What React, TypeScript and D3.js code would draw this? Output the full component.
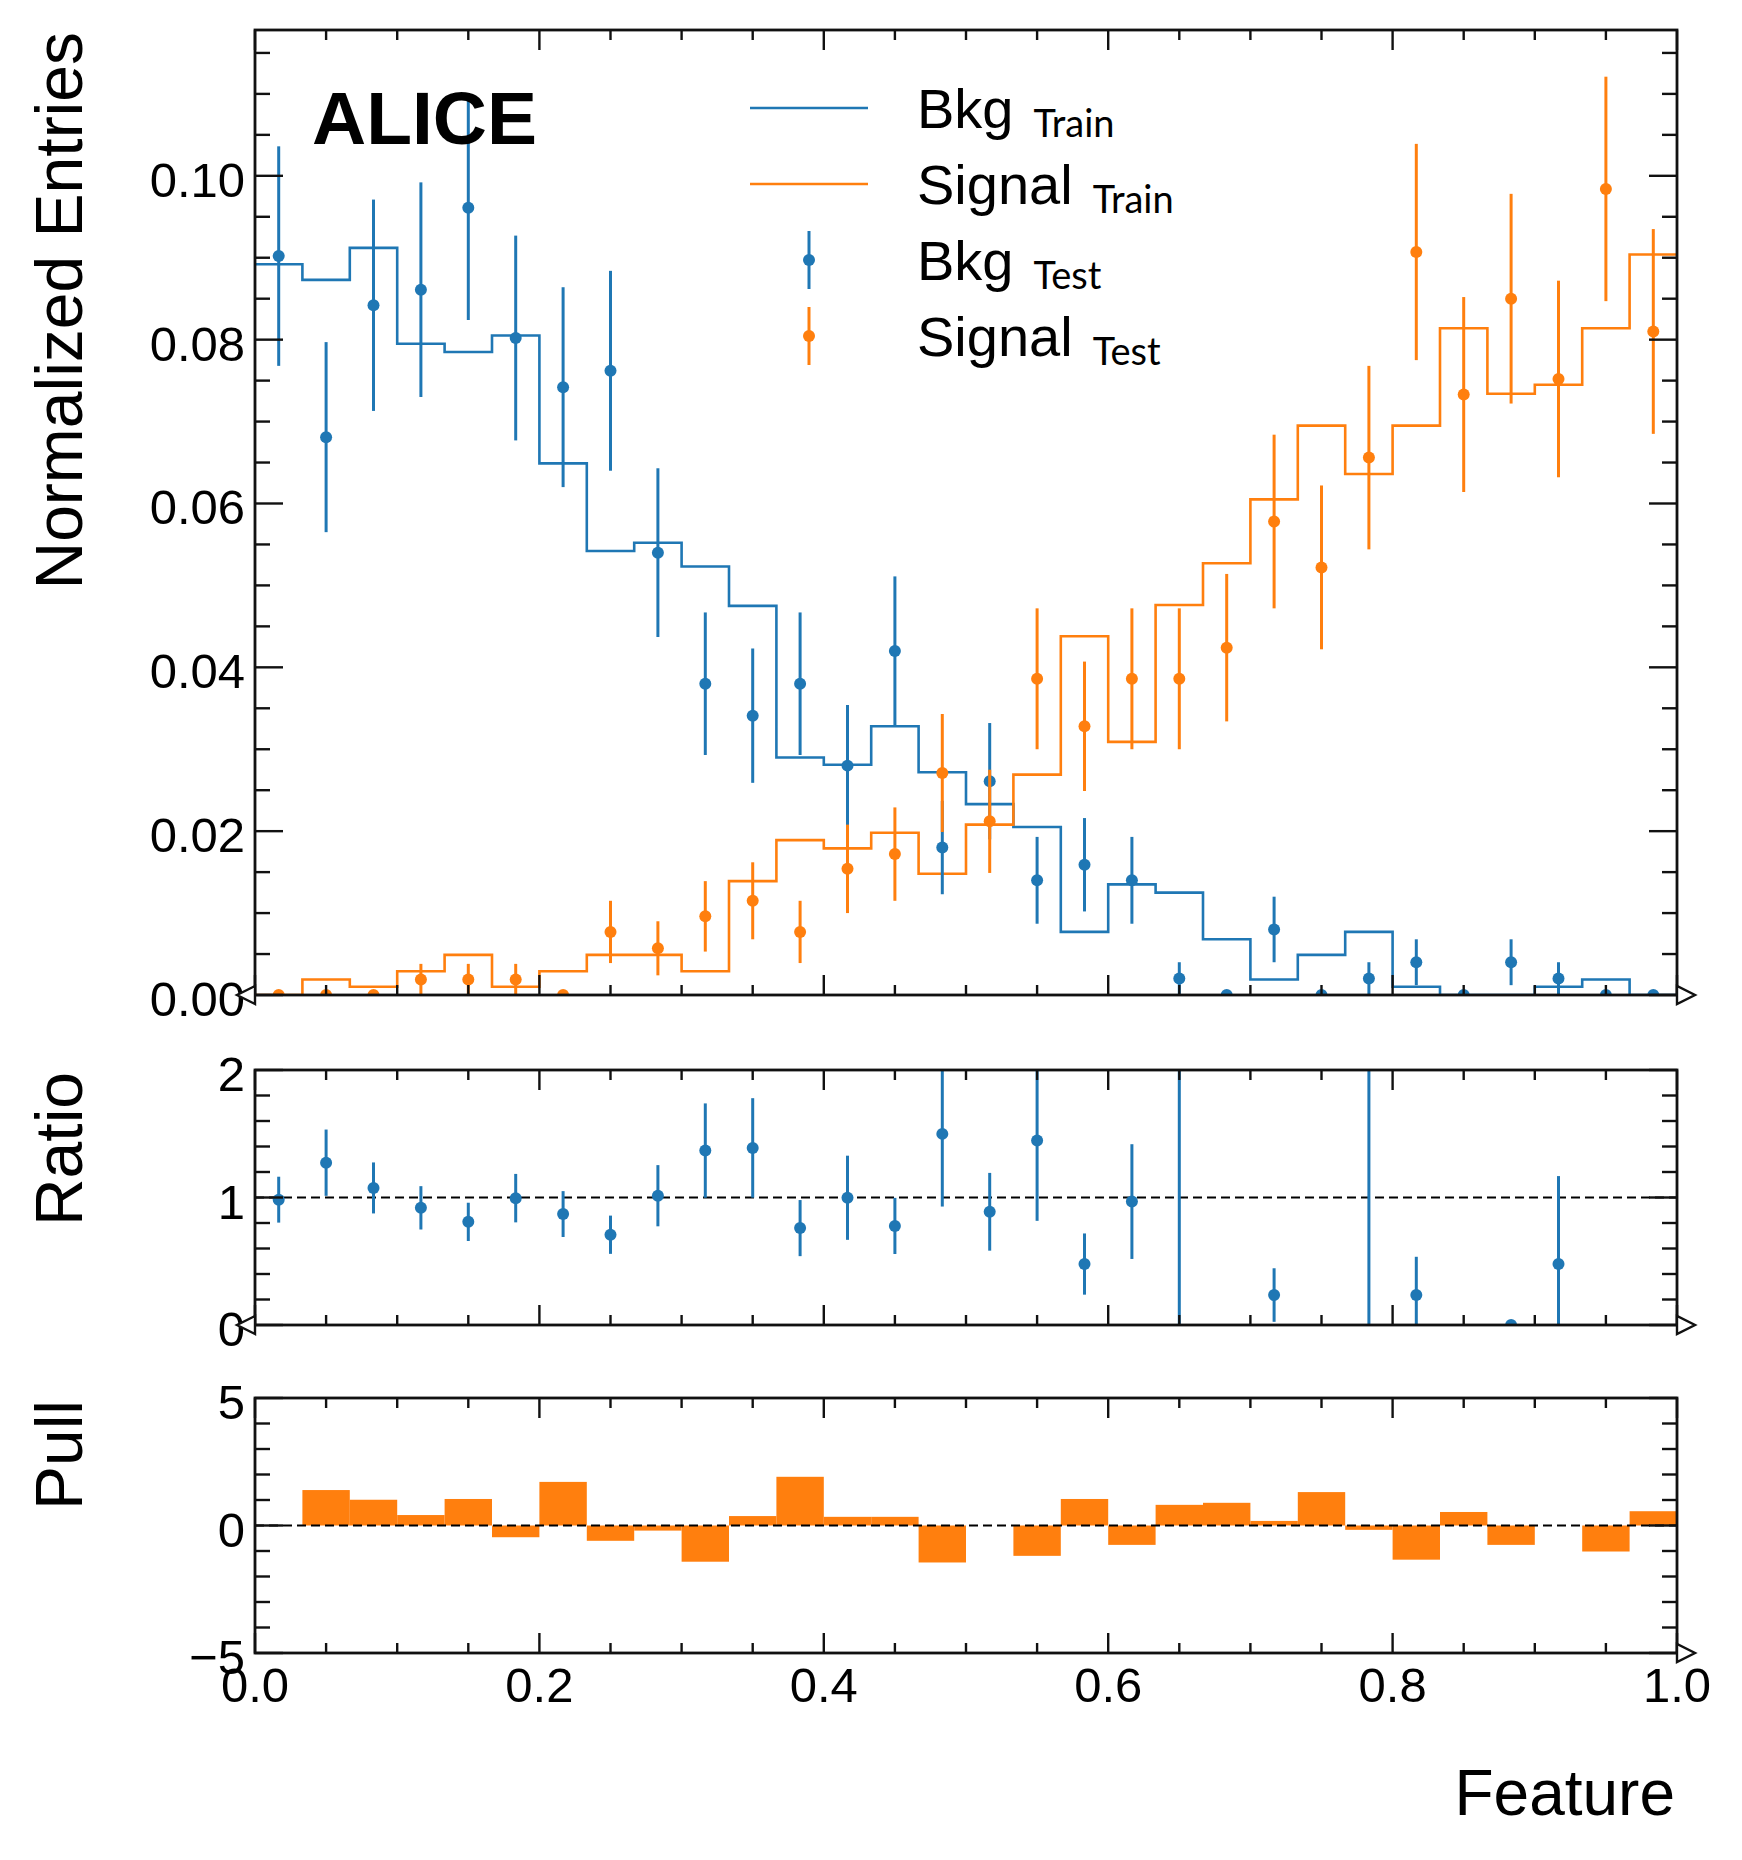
import * as d3 from "d3";

const WIDTH = 1742;
const HEIGHT = 1860;
const BLUE = "#1f77b4";
const ORANGE = "#ff7f0e";
const FONT = "'Liberation Sans', Arial, Helvetica, sans-serif";
const SUB_FONT = "Lato, 'Open Sans', sans-serif";

// 30 equal bins on [0, 1]
const N_BINS = 30;
const binEdges = d3.range(N_BINS + 1).map((i) => i / N_BINS);

// normalized entries per bin
const bkgTrain = [
  0.0892, 0.0873, 0.0912, 0.0795, 0.0785, 0.0805, 0.0649, 0.0542, 0.0552, 0.0523,
  0.0475, 0.029, 0.0281, 0.0328, 0.0272, 0.0233, 0.0205, 0.0077, 0.0135, 0.0125,
  0.0068, 0.0019, 0.0049, 0.0077, 0.001, 0, 0, 0.001, 0.0019, 0,
];
const signalTrain = [
  0, 0.0019, 0.001, 0.0029, 0.0049, 0.001, 0.0029, 0.0049, 0.0049, 0.0029,
  0.0139, 0.0189, 0.0179, 0.0198, 0.0148, 0.0208, 0.0269, 0.0438, 0.0309, 0.0476,
  0.0527, 0.0605, 0.0695, 0.0636, 0.0695, 0.0814, 0.0734, 0.0745, 0.0814, 0.0904,
];
const bkgTest = [
  0.0902, 0.0681, 0.0842, 0.0861, 0.0961, 0.0802, 0.0742, 0.0762, 0.054, 0.038,
  0.0341, 0.038, 0.028, 0.042, 0.018, 0.0261, 0.014, 0.0159, 0.014, 0.002,
  0, 0.008, 0, 0.002, 0.004, 0, 0.004, 0.002, 0, 0,
];
const bkgTestErr = [
  0.0134, 0.0116, 0.0129, 0.0131, 0.0137, 0.0125, 0.0122, 0.0122, 0.0103, 0.0087,
  0.0082, 0.0087, 0.0074, 0.0091, 0.0057, 0.0071, 0.0053, 0.0057, 0.0053, 0.002,
  0, 0.004, 0, 0.002, 0.0028, 0, 0.0028, 0.002, 0, 0,
];
const signalTest = [
  0, 0, 0, 0.0019, 0.0019, 0.0019, 0, 0.0077, 0.0057, 0.0096,
  0.0115, 0.0077, 0.0154, 0.0172, 0.0271, 0.0212, 0.0386, 0.0328, 0.0386, 0.0386,
  0.0424, 0.0578, 0.0522, 0.0656, 0.0907, 0.0733, 0.085, 0.0752, 0.0984, 0.081,
];
const signalTestErr = [
  0, 0, 0, 0.0019, 0.0019, 0.0019, 0, 0.0038, 0.0033, 0.0043,
  0.0047, 0.0038, 0.0054, 0.0057, 0.0072, 0.0063, 0.0086, 0.0079, 0.0086, 0.0086,
  0.009, 0.0106, 0.01, 0.0112, 0.0132, 0.0119, 0.0128, 0.012, 0.0137, 0.0125,
];

// train / test ratio for background (null = undefined bin)
const ratio = [
  0.983, 1.273, 1.075, 0.919, 0.809, 0.995, 0.87, 0.708, 1.014, 1.368,
  1.389, 0.76, 0.998, 0.777, 1.499, 0.888, 1.447, 0.478, 0.968, 6.3,
  null, 0.235, null, 4.0, 0.235, null, 0, 0.478, null, null,
];
const ratioErr = [
  0.18, 0.26, 0.2, 0.17, 0.15, 0.19, 0.18, 0.15, 0.24, 0.37,
  0.39, 0.22, 0.33, 0.22, 0.57, 0.305, 0.63, 0.24, 0.45, 6.5,
  null, 0.21, null, 4.2, 0.3, null, 0, 0.69, null, null,
];

// signal pull per bin
const pull = [
  0, 1.39, 1.01, 0.41, 1.04, -0.46, 1.71, -0.6, -0.2, -1.42,
  0.37, 1.91, 0.34, 0.34, -1.45, 0, -1.19, 1.04, -0.76, 0.81,
  0.89, 0.18, 1.31, -0.17, -1.34, 0.53, -0.76, 0, -1.02, 0.56,
];

const xMajorTicks = [0, 0.2, 0.4, 0.6, 0.8, 1.0];
const mainYTicks = [0, 0.02, 0.04, 0.06, 0.08, 0.1];
const ratioYTicks = [0, 1, 2];
const pullYTicks = [-5, 0, 5];

const X0 = 255;
const X1 = 1677;
const MAIN = { top: 30, bottom: 995 };
const RATIO = { top: 1070, bottom: 1325 };
const PULL = { top: 1398, bottom: 1653 };

const x = d3.scaleLinear().domain([0, 1]).range([X0, X1]);
const yMain = d3.scaleLinear().domain([0, 0.1178]).range([MAIN.bottom, MAIN.top]);
const yRatio = d3.scaleLinear().domain([0, 2]).range([RATIO.bottom, RATIO.top]);
const yPull = d3.scaleLinear().domain([-5, 5]).range([PULL.bottom, PULL.top]);

const Y_MAJOR_LEN = 28;
const Y_MINOR_LEN = 15;
const X_MAJOR_LEN = 20;
const X_MINOR_LEN = 10;
const TICK_FONT = 49;

const binCenter = (i: number) => (binEdges[i] + binEdges[i + 1]) / 2;

function stepPath(values: number[], y: d3.ScaleLinear<number, number>) {
  const pts: [number, number][] = values.map((v, i) => [x(binEdges[i]), y(v)]);
  pts.push([x(1), y(values[values.length - 1])]);
  return d3.line().curve(d3.curveStepAfter)(pts) ?? "";
}

function Axes({
  id,
  y,
  top,
  bottom,
  yMajor,
  yMinorStep,
  yFmt,
  xLabels,
}: {
  id: string;
  y: d3.ScaleLinear<number, number>;
  top: number;
  bottom: number;
  yMajor: number[];
  yMinorStep: number;
  yFmt: (v: number) => string;
  xLabels: boolean;
}) {
  const [d0, d1] = y.domain();
  const yMinor = d3
    .range(Math.round((d1 - d0) / yMinorStep) + 1)
    .map((i) => d0 + i * yMinorStep)
    .filter((v) => v <= d1 + 1e-9 && !yMajor.some((m) => Math.abs(m - v) < 1e-9));
  const xMinor = d3
    .range(21)
    .map((i) => i * 0.05)
    .filter((v) => !xMajorTicks.some((m) => Math.abs(m - v) < 1e-9));

  return (
    <g key={id} stroke="#111" strokeWidth={2.4} fill="none">
      {/* y ticks, left and right, pointing inside */}
      {yMajor.map((t) => (
        <g key={`ym${t}`}>
          <line x1={X0} x2={X0 + Y_MAJOR_LEN} y1={y(t)} y2={y(t)} />
          <line x1={X1} x2={X1 - Y_MAJOR_LEN} y1={y(t)} y2={y(t)} />
        </g>
      ))}
      {yMinor.map((t) => (
        <g key={`yn${t}`}>
          <line x1={X0} x2={X0 + Y_MINOR_LEN} y1={y(t)} y2={y(t)} />
          <line x1={X1} x2={X1 - Y_MINOR_LEN} y1={y(t)} y2={y(t)} />
        </g>
      ))}
      {/* x ticks, top and bottom */}
      {xMajorTicks.map((t) => (
        <g key={`xm${t}`}>
          <line x1={x(t)} x2={x(t)} y1={bottom} y2={bottom - X_MAJOR_LEN} />
          <line x1={x(t)} x2={x(t)} y1={top} y2={top + X_MAJOR_LEN} />
        </g>
      ))}
      {xMinor.map((t) => (
        <g key={`xn${t}`}>
          <line x1={x(t)} x2={x(t)} y1={bottom} y2={bottom - X_MINOR_LEN} />
          <line x1={x(t)} x2={x(t)} y1={top} y2={top + X_MINOR_LEN} />
        </g>
      ))}
      <rect x={X0} y={top} width={X1 - X0} height={bottom - top} strokeWidth={2.8} />
      {/* tick labels */}
      <g stroke="none" fill="#000" fontFamily={FONT} fontSize={TICK_FONT}>
        {yMajor.map((t) => (
          <text key={`yl${t}`} x={X0 - 10} y={y(t) + 21} textAnchor="end">
            {yFmt(t)}
          </text>
        ))}
        {xLabels &&
          xMajorTicks.map((t) => (
            <text key={`xl${t}`} x={x(t)} y={bottom + 49} textAnchor="middle">
              {d3.format(".1f")(t)}
            </text>
          ))}
      </g>
    </g>
  );
}

// hollow flow-hint triangle at an axis end
function FlowMarker({ side, yPos }: { side: "left" | "right"; yPos: number }) {
  const s = 9;
  const pts =
    side === "left"
      ? [[X0, yPos - s], [X0, yPos + s], [X0 - 18, yPos]]
      : [[X1, yPos - s], [X1, yPos + s], [X1 + 18, yPos]];
  return (
    <polygon
      points={pts.map((p) => p.join(",")).join(" ")}
      fill="#fff"
      stroke="#111"
      strokeWidth={2.4}
    />
  );
}

function ErrorPoints({
  values,
  errors,
  y,
  color,
}: {
  values: (number | null)[];
  errors: (number | null)[];
  y: d3.ScaleLinear<number, number>;
  color: string;
}) {
  return (
    <g>
      {values.map((v, i) => {
        if (v === null) return null;
        const e = errors[i] ?? 0;
        const cx = x(binCenter(i));
        return (
          <g key={i}>
            {e > 0 && (
              <line x1={cx} x2={cx} y1={y(v - e)} y2={y(v + e)} stroke={color} strokeWidth={3} />
            )}
            <circle cx={cx} cy={y(v)} r={6} fill={color} />
          </g>
        );
      })}
    </g>
  );
}

const legendRows = [
  { label: "Bkg", sub: "Train", color: BLUE, kind: "line" },
  { label: "Signal", sub: "Train", color: ORANGE, kind: "line" },
  { label: "Bkg", sub: "Test", color: BLUE, kind: "point" },
  { label: "Signal", sub: "Test", color: ORANGE, kind: "point" },
];

export default function App() {
  const fmt2 = d3.format(".2f");
  const fmtInt = (v: number) => (v < 0 ? `\u2212${Math.abs(v)}` : `${v}`);

  return (
    <>
      <style>{`body{margin:0}`}</style>
      <svg
        width={WIDTH}
        height={HEIGHT}
        viewBox={`0 0 ${WIDTH} ${HEIGHT}`}
        style={{ display: "block", background: "#fff" }}
      >
        <defs>
          <clipPath id="clip-main">
            <rect x={X0} y={MAIN.top} width={X1 - X0} height={MAIN.bottom - MAIN.top} />
          </clipPath>
          <clipPath id="clip-ratio">
            <rect x={X0} y={RATIO.top} width={X1 - X0} height={RATIO.bottom - RATIO.top} />
          </clipPath>
          <clipPath id="clip-pull">
            <rect x={X0} y={PULL.top} width={X1 - X0} height={PULL.bottom - PULL.top} />
          </clipPath>
        </defs>

        {/* Main panel */}
        <g clipPath="url(#clip-main)">
          <path d={stepPath(bkgTrain, yMain)} fill="none" stroke={BLUE} strokeWidth={2.6} />
          <path d={stepPath(signalTrain, yMain)} fill="none" stroke={ORANGE} strokeWidth={2.6} />
          <ErrorPoints values={bkgTest} errors={bkgTestErr} y={yMain} color={BLUE} />
          <ErrorPoints values={signalTest} errors={signalTestErr} y={yMain} color={ORANGE} />
        </g>
        <Axes
          id="main"
          y={yMain}
          top={MAIN.top}
          bottom={MAIN.bottom}
          yMajor={mainYTicks}
          yMinorStep={0.005}
          yFmt={fmt2}
          xLabels={false}
        />
        <FlowMarker side="left" yPos={MAIN.bottom} />
        <FlowMarker side="right" yPos={MAIN.bottom} />

        <text x={312} y={144} fontFamily={FONT} fontWeight="bold" fontSize={75} fill="#000">
          ALICE
        </text>

        {/* Legend */}
        <g>
          {legendRows.map((r, i) => {
            const cy = 108 + i * 76;
            return (
              <g key={i}>
                {r.kind === "line" ? (
                  <line x1={750} x2={868} y1={cy} y2={cy} stroke={r.color} strokeWidth={2.6} />
                ) : (
                  <g>
                    <line x1={809} x2={809} y1={cy - 29} y2={cy + 29} stroke={r.color} strokeWidth={3} />
                    <circle cx={809} cy={cy} r={6} fill={r.color} />
                  </g>
                )}
                <text x={917} y={cy + 20} fontFamily={FONT} fontSize={56} fill="#000">
                  {r.label}
                  <tspan dx={20} dy={9} fontFamily={SUB_FONT} fontSize={38}>
                    {r.sub}
                  </tspan>
                </text>
              </g>
            );
          })}
        </g>

        {/* Ratio panel */}
        <line
          x1={X0}
          x2={X1}
          y1={yRatio(1)}
          y2={yRatio(1)}
          stroke="#000"
          strokeWidth={2.2}
          strokeDasharray="9 5"
        />
        <g clipPath="url(#clip-ratio)">
          <ErrorPoints values={ratio} errors={ratioErr} y={yRatio} color={BLUE} />
        </g>
        <Axes
          id="ratio"
          y={yRatio}
          top={RATIO.top}
          bottom={RATIO.bottom}
          yMajor={ratioYTicks}
          yMinorStep={0.2}
          yFmt={fmtInt}
          xLabels={false}
        />
        <FlowMarker side="left" yPos={RATIO.bottom} />
        <FlowMarker side="right" yPos={RATIO.bottom} />

        {/* Pull panel */}
        <g clipPath="url(#clip-pull)">
          {pull.map((v, i) =>
            v === 0 ? null : (
              <rect
                key={i}
                x={x(binEdges[i])}
                width={x(binEdges[i + 1]) - x(binEdges[i])}
                y={Math.min(yPull(v), yPull(0))}
                height={Math.abs(yPull(v) - yPull(0))}
                fill={ORANGE}
              />
            ),
          )}
        </g>
        <line
          x1={X0}
          x2={X1}
          y1={yPull(0)}
          y2={yPull(0)}
          stroke="#000"
          strokeWidth={2.2}
          strokeDasharray="9 5"
        />
        <Axes
          id="pull"
          y={yPull}
          top={PULL.top}
          bottom={PULL.bottom}
          yMajor={pullYTicks}
          yMinorStep={1}
          yFmt={fmtInt}
          xLabels={true}
        />
        <FlowMarker side="right" yPos={PULL.bottom} />

        {/* Axis titles */}
        <g fontFamily={FONT} fontSize={66} fill="#000">
          <text transform={`translate(82,${MAIN.top + 2}) rotate(-90)`} textAnchor="end">
            Normalized Entries
          </text>
          <text transform={`translate(82,${RATIO.top + 2}) rotate(-90)`} textAnchor="end">
            Ratio
          </text>
          <text transform={`translate(82,${PULL.top + 2}) rotate(-90)`} textAnchor="end">
            Pull
          </text>
          <text x={1675} y={1815} textAnchor="end" fontSize={64}>
            Feature
          </text>
        </g>
      </svg>
    </>
  );
}
